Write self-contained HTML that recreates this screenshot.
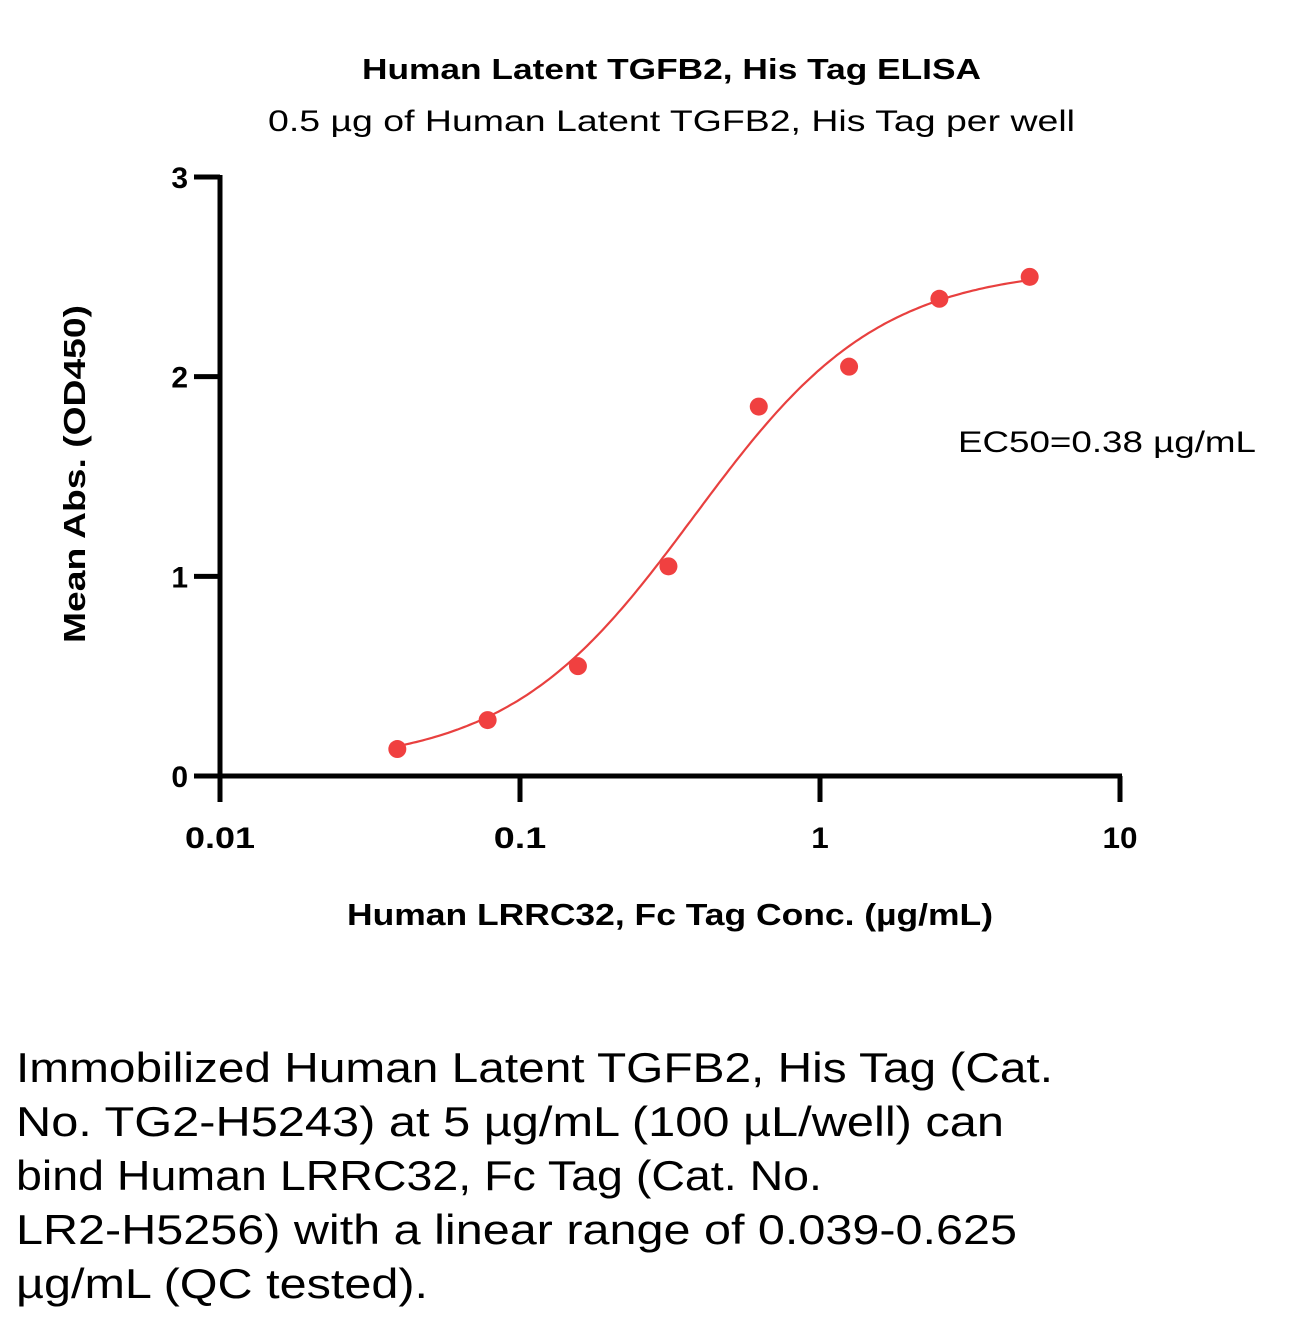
<!DOCTYPE html>
<html><head><meta charset="utf-8"><style>
html,body{margin:0;padding:0;background:#fff;}
body{width:1300px;height:1322px;overflow:hidden;font-family:"Liberation Sans",sans-serif;}
</style></head><body>
<svg id="chart" width="1300" height="1322" xmlns="http://www.w3.org/2000/svg" font-family="Liberation Sans, sans-serif">
<text x="362" y="79" font-size="29" font-weight="bold" textLength="619" lengthAdjust="spacingAndGlyphs">Human Latent TGFB2, His Tag ELISA</text>
<text x="268" y="131" font-size="30" textLength="807" lengthAdjust="spacingAndGlyphs">0.5 µg of Human Latent TGFB2, His Tag per well</text>
<text transform="translate(85,643) rotate(-90)" font-size="31" font-weight="bold" textLength="338" lengthAdjust="spacingAndGlyphs">Mean Abs. (OD450)</text>
<text x="347" y="925" font-size="31" font-weight="bold" textLength="646" lengthAdjust="spacingAndGlyphs">Human LRRC32, Fc Tag Conc. (µg/mL)</text>
<text x="958" y="452" font-size="30" textLength="298" lengthAdjust="spacingAndGlyphs">EC50=0.38 µg/mL</text>
<g id="axes"></g><g id="marks"></g>
<g font-size="42" lengthAdjust="spacingAndGlyphs">
<text x="16" y="1082" textLength="1037" lengthAdjust="spacingAndGlyphs">Immobilized Human Latent TGFB2, His Tag (Cat.</text>
<text x="16" y="1136" textLength="988" lengthAdjust="spacingAndGlyphs">No. TG2-H5243) at 5 µg/mL (100 µL/well) can</text>
<text x="16" y="1190" textLength="806" lengthAdjust="spacingAndGlyphs">bind Human LRRC32, Fc Tag (Cat. No.</text>
<text x="16" y="1244" textLength="1001" lengthAdjust="spacingAndGlyphs">LR2-H5256) with a linear range of 0.039-0.625</text>
<text x="16" y="1298" textLength="412" lengthAdjust="spacingAndGlyphs">µg/mL (QC tested).</text>
</g>
</svg>
<script>
const concentrations=[0.039,0.078,0.156,0.3125,0.625,1.25,2.5,5];
const absorbance=[0.135,0.28,0.55,1.05,1.85,2.05,2.39,2.5];
const xTicks=[0.01,0.1,1,10];
const xTickLabels=["0.01","0.1","1","10"];
const yTicks=[0,1,2,3];
const yTickLabels=["0","1","2","3"];
const fitBottom=0.05, fitTop=2.55, fitEC50=0.38, fitHill=1.4;

const NS="http://www.w3.org/2000/svg";
const X0=220,X1=1120,Y0=776,Y1=177;
const xs=v=>X0+(Math.log10(v)+2)/3*(X1-X0);
const ys=v=>Y0-v/3*(Y0-Y1);
function mk(tag,attrs,parent){const e=document.createElementNS(NS,tag);for(const k in attrs)e.setAttribute(k,attrs[k]);parent.appendChild(e);return e;}
const axes=document.getElementById('axes'),marks=document.getElementById('marks');
let a=mk('line',{x1:X0,y1:Y0,x2:X1+2,y2:Y0,stroke:'#000','stroke-width':5},axes);


a=mk('line',{x1:X0,y1:Y1-2,x2:X0,y2:Y0+2,stroke:'#000','stroke-width':5},axes);


xTicks.forEach((t,i)=>{
  const x=xs(t);
  const l=mk('line',{x1:x,y1:Y0,x2:x,y2:Y0+26,stroke:'#000','stroke-width':5},axes);
  
  
  const w=xTickLabels[i].length*17.5;
  const tx=mk('text',{x:x-w/2,y:848,'font-size':30,'font-weight':'bold',textLength:w,lengthAdjust:'spacingAndGlyphs'},axes);
  tx.textContent=xTickLabels[i];
  
  
});
yTicks.forEach((t,i)=>{
  const y=ys(t);
  const l=mk('line',{x1:X0-26,y1:y,x2:X0,y2:y,stroke:'#000','stroke-width':5},axes);
  
  
  const tx=mk('text',{x:188,y:y+11,'text-anchor':'end','font-size':30,'font-weight':'bold'},axes);
  tx.textContent=yTickLabels[i];
  
  
});
const fit=c=>fitBottom+(fitTop-fitBottom)/(1+Math.pow(fitEC50/c,fitHill));
let d='';
const lo=Math.log10(concentrations[0]),hi=Math.log10(concentrations[concentrations.length-1]);
for(let i=0;i<=200;i++){const c=Math.pow(10,lo+(hi-lo)*i/200);d+=(i?'L':'M')+xs(c).toFixed(1)+','+ys(fit(c)).toFixed(1);}
const p=mk('path',{d:d,fill:'none',stroke:'#e8403f','stroke-width':2.2},marks);


concentrations.forEach((c,i)=>{
  const pt=mk('circle',{cx:xs(c),cy:ys(absorbance[i]),r:9,fill:'#f04040'},marks);
  
  
});
</script>
</body></html>
